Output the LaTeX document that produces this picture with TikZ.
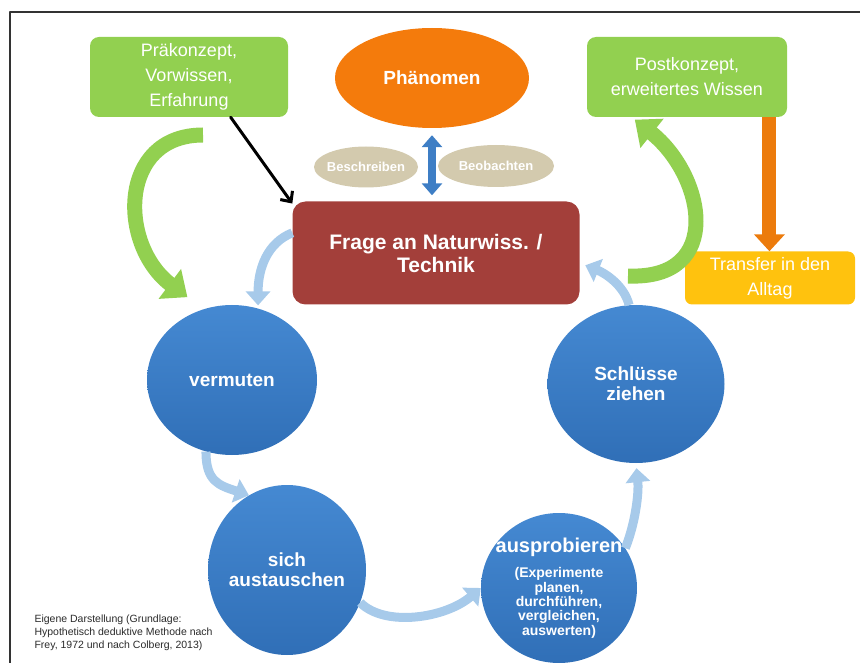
\documentclass[tikz,border=0pt]{standalone}
\usepackage{fontspec}
\setmainfont{Liberation Sans}
\usepackage{tikz}
\usetikzlibrary{arrows.meta,shapes.geometric}
\definecolor{gruen}{HTML}{92D050}
\definecolor{orangeel}{HTML}{F47B0C}
\definecolor{orangepf}{HTML}{EC7B0C}
\definecolor{gelb}{HTML}{FFC20E}
\definecolor{rotbraun}{HTML}{A33F3A}
\definecolor{beige}{HTML}{D3CAAE}
\definecolor{blauhell}{HTML}{4589D2}
\definecolor{blaudunkel}{HTML}{306FB7}
\definecolor{blaupf}{HTML}{3E7EC5}
\definecolor{hellblau}{HTML}{A7CAEA}
\definecolor{rahmen}{HTML}{333333}
\definecolor{textgrau}{HTML}{2A2A2A}

\begin{document}
\begin{tikzpicture}[line cap=round,line join=round,x=1pt,y=-1pt,
kasten/.style={rectangle,rounded corners=9pt,text=white,align=center,font=\fontsize{18}{25}\selectfont},
kreis/.style={ellipse,inner sep=0pt,top color=blauhell,bottom color=blaudunkel},
kreistext/.style={text=white,align=center,font=\fontsize{19}{20}\selectfont\bfseries},
oval/.style={ellipse,inner sep=0pt,fill=beige},
ovaltext/.style={text=white,font=\fontsize{13}{14}\selectfont\bfseries},
zyklus/.style={draw=hellblau,line width=9pt,line cap=butt,-{Triangle[width=24pt,length=14pt]}},
bogen/.style={draw=gruen,line width=15pt,line cap=butt,-{Triangle[width=36pt,length=22pt]}}]
\useasboundingbox (0,0) rectangle (860,663);
\draw[line width=1.5pt,color=rahmen] (10,670) -- (10,12) -- (866,12);
\node[kasten,fill=gruen,minimum width=198pt,minimum height=80pt] (prae) at (189,77) {Präkonzept,\\Vorwissen,\\Erfahrung};
\node[kasten,fill=gruen,minimum width=200pt,minimum height=80pt] (post) at (687,77) {Postkonzept,\\erweitertes Wissen};
\node[kasten,fill=gelb,minimum width=170pt,minimum height=53pt,rounded corners=7pt] (transfer) at (770,278) {Transfer in den\\Alltag};
\node[ellipse,fill=orangeel,minimum width=194pt,minimum height=100pt,inner sep=0pt,text=white,font=\fontsize{19}{20}\selectfont\bfseries] (phaen) at (432,78) {Phänomen};
\node[oval,minimum width=104pt,minimum height=41pt,label={[ovaltext]center:Beschreiben}] (beschr) at (366,167) {};
\node[oval,minimum width=116pt,minimum height=42pt,label={[ovaltext]center:Beobachten}] (beob) at (496,166) {};
\node[kasten,fill=rotbraun,minimum width=287pt,minimum height=103pt,rounded corners=13pt,font=\fontsize{21}{23}\selectfont\bfseries] (frage) at (436,253) {Frage an Naturwiss. /\\Technik};
\node[kreis,minimum width=170pt,minimum height=150pt,label={[kreistext]center:vermuten}] (vermuten) at (232,380) {};
\node[kreis,minimum width=158pt,minimum height=170pt,label={[kreistext]center:{sich\\austauschen}}] (tausch) at (287,570) {};
\node[kreis,minimum width=156pt,minimum height=150pt,label={[kreistext,font=\fontsize{14}{14.3}\selectfont\bfseries]center:{{\fontsize{20}{20}\selectfont ausprobieren}\\[11pt](Experimente\\planen,\\durchführen,\\vergleichen,\\auswerten)}}] (probe) at (559,588) {};
\node[kreis,minimum width=177pt,minimum height=158pt,label={[kreistext]center:{Schlüsse\\ziehen}}] (schluss) at (636,384) {};
\node[anchor=west,align=left,text=textgrau,font=\fontsize{10.5}{13}\selectfont] (quelle) at (31,633) {Eigene Darstellung (Grundlage:\\Hypothetisch deduktive Methode nach\\Frey, 1972 und nach Colberg, 2013)};
\coordinate (praeaus) at (203,135);
\coordinate (postein) at (628,276);
\draw[bogen,shorten >=20pt] (praeaus) .. controls +(-85,0) and +(-85,-64) .. (vermuten.112);
\draw[bogen,shorten >=4pt] (postein) .. controls +(97,4) and +(73,58) .. (post.-144);
\draw[line width=3pt,-{Straight Barb[length=8pt,width=15pt]}] (prae.-44) -- (frage.161);
\draw[draw=orangepf,line width=14pt,line cap=butt,-{Triangle[width=30pt,length=17pt]}] (post.-26) -- (post.-26 |- transfer.north);
\draw[draw=blaupf,line width=8pt,line cap=butt,{Triangle[width=20pt,length=12pt]}-{Triangle[width=20pt,length=12pt]},shorten <=7pt,shorten >=6pt] (phaen.south) -- (phaen.south |- frage.north);
\draw[zyklus,shorten >=3pt] (frage.172) .. controls +(-25,10) and +(0,-40) .. (vermuten.70);
\draw[zyklus] (vermuten.-110) .. controls +(0,30) and +(-30,-10) .. (tausch.117);
\draw[zyklus] (tausch.-24) .. controls +(25,25) and +(-35,30) .. (probe.180);
\draw[zyklus,shorten >=5pt] (probe.31) .. controls +(10,-25) and +(3,30) .. (schluss.-90);
\draw[zyklus,shorten >=6pt] (schluss.95) .. controls +(-5,-20) and +(25,10) .. (frage.-4);
\end{tikzpicture}
\end{document}
